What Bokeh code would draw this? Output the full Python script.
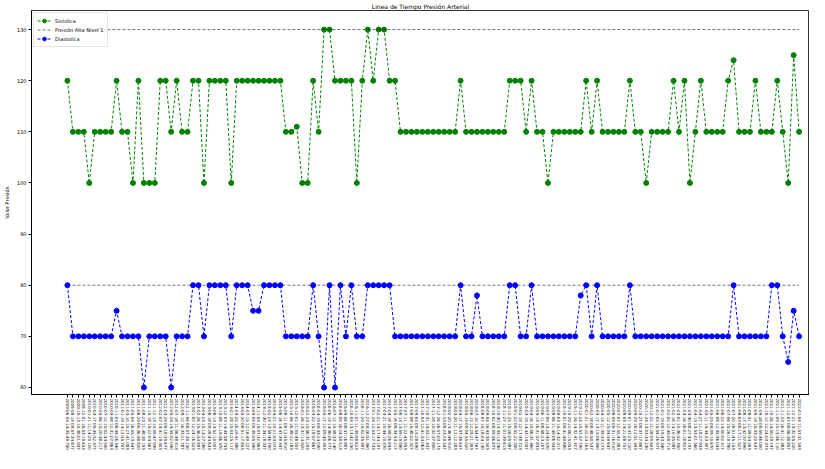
from bokeh.plotting import figure
from bokeh.models import Range1d, FixedTicker, Legend
from bokeh.embed import file_html
from bokeh.resources import INLINE

fechas = [
    "2009-06-04 14:35:49.750", "2009-08-14 09:57:34.877", "2009-10-13 10:38:01.937", "2009-12-01 16:53:19.653",
    "2010-01-21 11:14:20.120", "2010-03-17 09:45:52.477", "2010-05-06 15:20:38.217", "2010-07-12 10:02:44.590",
    "2010-09-08 12:31:07.863", "2010-11-03 08:49:26.340", "2011-01-19 14:12:55.707", "2011-03-10 10:27:41.083",
    "2011-05-04 16:05:13.447", "2011-06-29 09:36:58.820", "2011-08-23 11:48:30.193", "2011-10-18 15:22:04.567",
    "2011-12-13 10:09:47.930", "2012-02-07 13:41:19.303", "2012-03-29 09:18:35.677", "2012-05-24 14:55:02.040",
    "2012-07-18 11:06:48.413", "2012-09-12 16:33:21.787", "2012-11-06 08:57:39.150", "2013-01-02 12:24:16.523",
    "2013-02-26 10:46:53.897", "2013-04-23 15:13:27.260", "2013-06-18 09:28:44.633", "2013-08-13 13:52:10.007",
    "2013-10-08 11:19:36.370", "2013-12-03 14:44:58.743", "2014-01-28 10:03:25.117", "2014-03-25 16:29:41.480",
    "2014-05-20 08:51:17.853", "2014-07-15 12:16:49.227", "2014-09-09 09:39:05.590", "2014-11-04 15:07:32.963",
    "2014-12-30 11:34:18.337", "2015-02-24 13:58:46.700", "2015-04-21 10:21:03.073", "2015-06-16 14:47:39.447",
    "2015-08-11 09:12:55.810", "2015-10-06 16:38:22.183", "2015-12-01 11:05:48.557", "2016-01-26 13:31:14.920",
    "2016-02-23 10:56:31.293", "2016-03-22 15:18:57.667", "2016-04-19 09:43:24.030", "2016-05-17 12:09:40.403",
    "2016-06-14 14:36:06.777", "2016-07-12 10:58:33.140", "2016-08-09 16:24:59.513", "2016-09-06 08:47:16.887",
    "2016-10-04 13:13:42.250", "2016-11-01 11:39:08.623", "2016-11-29 15:02:35.997", "2016-12-27 09:26:51.360",
    "2017-01-24 12:53:17.733", "2017-02-21 14:17:44.107", "2017-03-21 10:44:10.470", "2017-04-18 16:08:26.843",
    "2017-05-16 08:34:53.217", "2017-06-13 13:59:19.580", "2017-07-11 11:22:45.953", "2017-08-08 15:48:02.327",
    "2017-09-05 09:15:28.690", "2017-10-03 12:41:54.063", "2017-10-31 14:05:11.437", "2017-11-28 10:32:37.800",
    "2017-12-26 16:57:03.173", "2018-01-23 08:23:29.547", "2018-02-20 13:46:46.910", "2018-03-20 11:12:12.283",
    "2018-04-17 15:37:38.657", "2018-05-15 09:04:55.020", "2018-06-12 12:29:21.393", "2018-07-10 14:54:47.767",
    "2018-08-07 10:18:04.130", "2018-09-04 16:43:30.503", "2018-10-02 08:09:56.877", "2018-10-30 13:35:13.240",
    "2018-11-27 11:01:39.613", "2018-12-25 15:26:05.987", "2019-01-22 09:52:22.350", "2019-02-19 12:17:48.723",
    "2019-03-19 14:43:14.097", "2019-04-16 10:06:31.460", "2019-05-14 16:31:57.833", "2019-06-11 08:58:23.207",
    "2019-07-09 13:24:40.570", "2019-08-06 11:49:06.943", "2019-09-03 15:14:32.317", "2019-10-01 09:41:49.680",
    "2019-10-29 12:06:15.053", "2019-11-26 14:32:41.427", "2019-12-24 10:57:57.790", "2020-01-21 16:22:24.163",
    "2020-02-18 08:48:50.537", "2020-03-17 13:15:06.900", "2020-04-14 11:39:33.273", "2020-05-12 15:04:59.647",
    "2020-06-09 09:31:16.010", "2020-07-07 12:55:42.383", "2020-08-04 14:21:08.757", "2020-09-01 10:47:25.120",
    "2020-09-29 16:12:51.493", "2020-10-27 08:37:17.867", "2020-11-24 13:03:34.230", "2020-12-22 11:28:00.603",
    "2021-01-05 15:54:26.977", "2021-01-19 09:19:43.340", "2021-02-02 12:45:09.713", "2021-02-16 14:10:35.087",
    "2021-03-02 10:36:52.450", "2021-03-16 16:01:18.823", "2021-03-30 08:27:44.197", "2021-04-13 13:53:01.560",
    "2021-04-27 11:18:27.933", "2021-05-11 15:44:53.307", "2021-05-25 09:09:10.670", "2021-06-08 12:35:36.043",
    "2021-06-22 14:00:02.417", "2021-07-06 10:26:19.780", "2021-07-20 16:51:45.153", "2021-08-03 08:17:11.527",
    "2021-08-17 13:42:37.890", "2021-08-31 11:08:54.263", "2021-09-14 15:33:20.637", "2021-09-28 09:59:46.000",
    "2021-10-12 12:24:03.373", "2021-10-26 14:50:29.747", "2021-11-09 10:15:56.110", "2021-11-23 16:41:12.483",
    "2021-12-07 08:06:38.857", "2021-12-21 13:32:05.220", "2022-01-04 11:57:31.593",
]

sistolica = [
    120, 110, 110, 110, 100, 110, 110, 110, 110, 120,
    110, 110, 100, 120, 100, 100, 100, 120, 120, 110,
    120, 110, 110, 120, 120, 100, 120, 120, 120, 120,
    100, 120, 120, 120, 120, 120, 120, 120, 120, 120,
    110, 110, 111, 100, 100, 120, 110, 130, 130, 120,
    120, 120, 120, 100, 120, 130, 120, 130, 130, 120,
    120, 110, 110, 110, 110, 110, 110, 110, 110, 110,
    110, 110, 120, 110, 110, 110, 110, 110, 110, 110,
    110, 120, 120, 120, 110, 120, 110, 110, 100, 110,
    110, 110, 110, 110, 110, 120, 110, 120, 110, 110,
    110, 110, 110, 120, 110, 110, 100, 110, 110, 110,
    110, 120, 110, 120, 100, 110, 120, 110, 110, 110,
    110, 120, 124, 110, 110, 110, 120, 110, 110, 110,
    120, 110, 100, 125, 110,
]

diastolica = [
    80, 70, 70, 70, 70, 70, 70, 70, 70, 75,
    70, 70, 70, 70, 60, 70, 70, 70, 70, 60,
    70, 70, 70, 80, 80, 70, 80, 80, 80, 80,
    70, 80, 80, 80, 75, 75, 80, 80, 80, 80,
    70, 70, 70, 70, 70, 80, 70, 60, 80, 60,
    80, 70, 80, 70, 70, 80, 80, 80, 80, 80,
    70, 70, 70, 70, 70, 70, 70, 70, 70, 70,
    70, 70, 80, 70, 70, 78, 70, 70, 70, 70,
    70, 80, 80, 70, 70, 80, 70, 70, 70, 70,
    70, 70, 70, 70, 78, 80, 70, 80, 70, 70,
    70, 70, 70, 80, 70, 70, 70, 70, 70, 70,
    70, 70, 70, 70, 70, 70, 70, 70, 70, 70,
    70, 70, 80, 70, 70, 70, 70, 70, 70, 80,
    80, 70, 65, 75, 70,
]

nivel_alto_sis = 130
nivel_alto_dia = 80
y_ticks = [60, 70, 80, 90, 100, 110, 120, 130]

idx = list(range(len(fechas)))

FONT = "DejaVu Sans"

p = figure(width=809, height=453, output_backend="svg", toolbar_location=None,
           x_range=Range1d(-6.58, 135.9), y_range=Range1d(58.63, 133.73),
           min_border_left=22, min_border_right=0, min_border_top=8, min_border_bottom=59,
           title="Linea de Tiempo Presión Arterial")

p.title.align = "center"
p.title.text_font = FONT
p.title.text_font_size = "6px"
p.title.text_font_style = "normal"
p.title.text_color = "black"
p.title.standoff = 1
p.title.offset = 0

p.xgrid.visible = False
p.ygrid.visible = False
p.outline_line_color = "black"
p.outline_line_width = 0.8

p.xaxis.ticker = FixedTicker(ticks=idx)
p.xaxis.major_label_overrides = {i: f for i, f in zip(idx, fechas)}
p.xaxis.major_label_orientation = "vertical"
p.xaxis.major_label_text_font = FONT
p.xaxis.major_label_text_font_size = "4px"
p.xaxis.major_label_text_color = "black"
p.xaxis.major_label_standoff = 1
p.xaxis.major_tick_out = 3
p.xaxis.major_tick_in = 0
p.xaxis.minor_tick_out = 0
p.xaxis.minor_tick_in = 0
p.xaxis.axis_line_color = "black"

p.yaxis.ticker = FixedTicker(ticks=y_ticks)
p.yaxis.major_label_text_font = FONT
p.yaxis.major_label_text_font_size = "5px"
p.yaxis.major_label_text_color = "black"
p.yaxis.major_label_standoff = 2
p.yaxis.major_tick_out = 3
p.yaxis.major_tick_in = 0
p.yaxis.minor_tick_out = 0
p.yaxis.minor_tick_in = 0
p.yaxis.axis_label = "Valor Presión"
p.yaxis.axis_label_text_font = FONT
p.yaxis.axis_label_text_font_size = "5px"
p.yaxis.axis_label_text_font_style = "normal"
p.yaxis.axis_label_text_color = "black"
p.yaxis.axis_label_standoff = 4

DASH = "3 2"

l1 = p.line(idx, sistolica, line_color="green", line_width=1, line_dash=DASH)
s1 = p.scatter(idx, sistolica, size=5, fill_color="green", line_color="green")

l2 = p.line(idx, [nivel_alto_sis] * len(idx), line_color="black", line_alpha=0.55, line_width=1, line_dash=DASH)
l3 = p.line(idx, [nivel_alto_dia] * len(idx), line_color="black", line_alpha=0.55, line_width=1, line_dash=DASH)

l4 = p.line(idx, diastolica, line_color="blue", line_width=1, line_dash=DASH)
s4 = p.scatter(idx, diastolica, size=5, fill_color="blue", line_color="blue")

legend = Legend(items=[("Sistolica", [l1, s1]), ("Presión Alta Nivel 1", [l2]), ("Diastolica", [l4, s4])],
                location="top_left")
legend.label_text_font = FONT
legend.label_text_font_size = "5px"
legend.label_text_color = "black"
legend.label_height = 9
legend.glyph_height = 9
legend.glyph_width = 14
legend.spacing = 0
legend.padding = 3
legend.margin = 2
legend.label_standoff = 4
legend.border_line_color = "#cccccc"
legend.border_line_width = 0.8
legend.background_fill_alpha = 0.8
p.add_layout(legend)

open("out.html", "w").write(file_html(p, INLINE))
